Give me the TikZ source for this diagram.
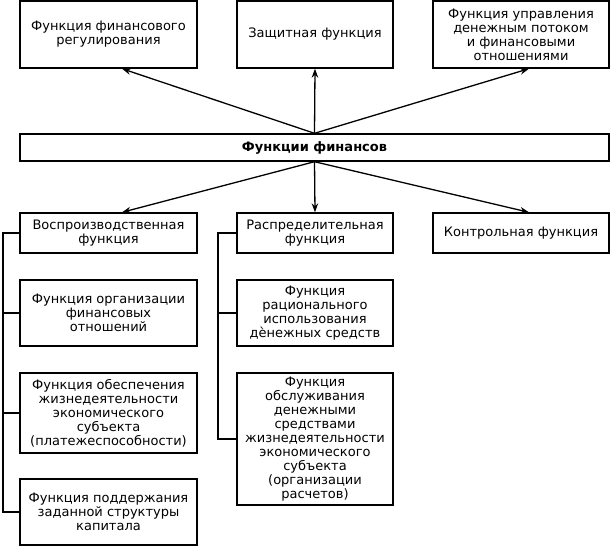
\documentclass[tikz,border=0pt]{standalone}
\usepackage{fontspec}
\setmainfont{DejaVu Sans}
\usetikzlibrary{arrows.meta}

\tikzset{
	fbox/.style={draw, line width=1.4pt, align=center, inner sep=0pt,
		font=\fontsize{13}{14}\selectfont},
	farrow/.style={line width=1.3pt, -{Stealth[length=9pt,width=6.5pt]}},
	fline/.style={line width=1.3pt}
}

\begin{document}
\begin{tikzpicture}[x=1pt, y=-1pt] % functions
		\useasboundingbox (0,0) rectangle (612,547);

		\node[fbox, minimum width=177, minimum height=67] (reg) at (108.5,34.5) {Функция финансового\\регулирования};
		\node[fbox, minimum width=156, minimum height=67] (zasch) at (315,34.5) {Защитная функция};
		\node[fbox, minimum width=176, minimum height=67] (upr) at (521,34.5) {Функция управления\\денежным потоком\\и финансовыми\\отношениями};

		\node[fbox, minimum width=589, minimum height=27, font=\fontsize{13}{14}\selectfont\bfseries] (fin) at (314.5,147.5) {Функции финансов};

		\node[fbox, minimum width=177, minimum height=40] (vospr) at (108.5,233) {Воспроизводственная\\функция};
		\node[fbox, minimum width=156, minimum height=40] (raspr) at (315,233) {Распределительная\\функция};
		\node[fbox, minimum width=176, minimum height=40] (kontr) at (521,233) {Контрольная функция};

		\node[fbox, minimum width=177, minimum height=66] (org) at (108.5,313) {Функция организации\\финансовых\\отношений};
		\node[fbox, minimum width=156, minimum height=66] (rac) at (315,313) {Функция\\рационального\\использования\\дѐнежных средств};

		\node[fbox, minimum width=177, minimum height=80] (obesp) at (108.5,413) {Функция обеспечения\\жизнедеятельности\\экономического\\субъекта\\(платежеспособности)};
		\node[fbox, minimum width=156, minimum height=132] (obsl) at (315,439) {Функция\\обслуживания\\денежными\\средствами\\жизнедеятельности\\экономического\\субъекта\\(организации\\расчетов)};

		\node[fbox, minimum width=177, minimum height=66] (podd) at (108.5,512) {Функция поддержания\\заданной структуры\\капитала};

		\draw[farrow] (fin.north) -- ([xshift=13.5pt]reg.south);
		\draw[farrow] (fin.north) -- (zasch.south);
		\draw[farrow] (fin.north) -- ([xshift=8pt]upr.south);

		\draw[farrow] (fin.south) -- ([xshift=13.5pt]vospr.north);
		\draw[farrow] (fin.south) -- (raspr.north);
		\draw[farrow] (fin.south) -- ([xshift=8pt]kontr.north);

		\coordinate (lt) at (3,233);
		\coordinate (mt) at (218,233);
		\draw[fline] (vospr.west) -- (lt) -- (lt |- podd.west) -- (podd.west);
		\draw[fline] (lt |- org.west) -- (org.west);
		\draw[fline] (lt |- obesp.west) -- (obesp.west);

		\draw[fline] (raspr.west) -- (mt) -- (mt |- obsl.west) -- (obsl.west);
		\draw[fline] (mt |- rac.west) -- (rac.west);
		\end{tikzpicture}
\end{document}
